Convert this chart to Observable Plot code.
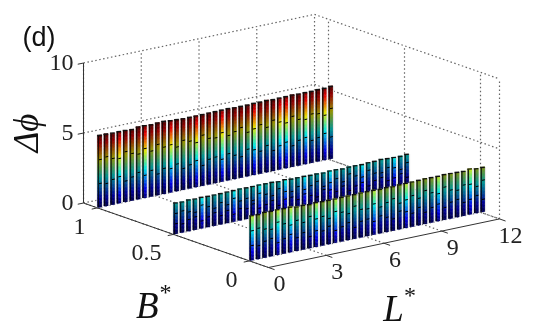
<!DOCTYPE html>
<html><head><meta charset="utf-8">
<style>html,body{margin:0;padding:0;background:#fff}svg{display:block;filter:blur(.35px)}</style>
<script src="https://cdn.jsdelivr.net/npm/d3@7"></script>
<script src="https://cdn.jsdelivr.net/npm/@observablehq/plot@0.6"></script>
</head><body><script>
const Lvals=[0,.33,.67,1,1.33,1.67,2,2.33,2.67,3,3.33,3.67,4,4.33,4.67,5,5.33,5.67,6,6.33,6.67,7,7.33,7.67,8,8.33,8.67,9,9.33,9.67,10,10.33,10.67,11,11.33,11.67,12];
const phiB1=[5.12,5.12,5.10,5.10,5.09,5.05,5.14,5.14,5.11,5.14,5.16,5.11,5.09,5.06,5.06,5.06,5.06,5.08,5.08,5.10,5.10,5.07,5.07,5.07,5.09,5.09,5.11,5.07,5.09,5.09,5.11,5.09,5.09,5.08,5.11,5.10,5.15];
const phiB05=[2.19,2.16,2.21,2.18,2.20,2.18,2.18,2.18,2.20,2.20,2.22,2.20,2.21,2.22,2.21,2.21,2.16,2.21,2.16,2.16,2.16,2.13,2.14,2.11,2.16,2.15,2.11,2.15,2.15,2.13,2.17,2.17,2.21,2.17,2.16,2.14,2.19];
const phiB0=[3.17,3.15,3.21,3.19,3.21,3.19,3.21,3.12,3.14,3.09,3.14,3.11,3.11,3.11,3.13,3.13,3.13,3.15,3.15,3.15,3.12,3.15,3.12,3.15,3.16,3.17,3.19,3.21,3.19,3.18,3.21,3.20,3.18,3.15,3.23,3.15,3.15];
const tickShift=[0,-.1,.1,.2,-.2,0,.2,-.1,.16,-.2,.1,0,.24,-.16,0,.2,-.24,.1,.16,-.1,.2,0,-.2,.24,.1,-.1,.2,-.24,0,.16,-.2,.1,.2,-.1,0,.2,-.16];
const brightB1=[3,7,11,15,19,24,28,29,32,35];
const brightB05=[4,9,13,17,20,24,29,34];
const brightB0=[0,4,6,10,13,19,24,29,34];
const Bticks=[0,.5,1], Lticks=[0,3,6,9,12], Zticks=[0,5,10];
const Brange=[-.125,1.092], Lrange=[0,12], Zrange=[0,10];
const wL=.155, wB=.009, shift=.07, dz=.1;
const jetStops=[0,.65,2.1,3.4,4.6,5.2];
const jetColors=["#000080","#0000ff","#00ffff","#ffff00","#ff0000","#800000"];

// oblique projection of (L,B,z) onto the two plot scales
const U=(L,B)=>L-7.896*B;
const V=(L,B,z)=>z+.2893*L+3.786*B;
const seg=(a,b,extra={})=>({x1:U(a[0],a[1]),y1:V(a[0],a[1],a[2]),x2:U(b[0],b[1]),y2:V(b[0],b[1],b[2]),...extra});
const pt=(L,B,z,extra={})=>({x:U(L,B),y:V(L,B,z),...extra});

const grid=[];
for(const l of Lticks){grid.push(seg([l,Brange[0],0],[l,Brange[1],0]));grid.push(seg([l,Brange[1],0],[l,Brange[1],Zrange[1]]));}
for(const b of Bticks){grid.push(seg([Lrange[0],b,0],[Lrange[1],b,0]));grid.push(seg([Lrange[1],b,0],[Lrange[1],b,Zrange[1]]));}
for(const z of Zticks){grid.push(seg([Lrange[0],Brange[1],z],[Lrange[1],Brange[1],z]));grid.push(seg([Lrange[1],Brange[1],z],[Lrange[1],Brange[0],z]));}
grid.push(seg([Lrange[1],Brange[0],0],[Lrange[1],Brange[0],Zrange[1]]));

const axes=[
 seg([Lrange[0],Brange[1],0],[Lrange[0],Brange[1],Zrange[1]]),
 seg([Lrange[0],Brange[1],0],[Lrange[0],Brange[0],0]),
 seg([Lrange[0],Brange[0],0],[Lrange[1],Brange[0],0]),
 ...Zticks.map(z=>seg([-.3,Brange[1],z],[0,Brange[1],z])),
 ...Bticks.map(b=>seg([-.3,b,0],[0,b,0])),
 ...Lticks.map(l=>seg([l,Brange[0],0],[l,Brange[0]-.04,0]))
];

function rowMarks(B,phi,bright){
 const under=[],left=[],right=[],leftShade=[],rightDim=[],rightLit=[],ticks=[],tops=[];
 Lvals.forEach((L0,i)=>{
  const L=L0+shift,h=phi[i],lit=bright.includes(i);
  under.push(seg([L+.05,B,0],[L+.05,B,h+.05]));
  for(let z=0;z<h-1e-6;z+=dz){
   const t=Math.min(z+dz/2,h);
   left.push(seg([L,B+wB,t],[L,B,t],{z:t}));
   right.push(seg([L,B,t],[L+wL,B,t],{z:t}));
  }
  leftShade.push(seg([L,B+wB/2,0],[L,B+wB/2,h]));
  (lit?rightLit:rightDim).push(seg([L+wL/2,B,0],[L+wL/2,B,h]));
  ticks.push(seg([L+.01,B,h/3+tickShift[i]],[L+wL,B,h/3+tickShift[i]]));
  ticks.push(seg([L+.01,B,2*h/3-tickShift[i]],[L+wL,B,2*h/3-tickShift[i]]));
  tops.push(seg([L-.02,B+wB,h],[L+wL,B,h]));
 });
 const l={x1:"x1",y1:"y1",x2:"x2",y2:"y2"};
 return [
  Plot.link(under,{...l,stroke:"#e6e6e6",strokeWidth:6.6}),
  Plot.link(left,{...l,stroke:"z",strokeWidth:1.7}),
  Plot.link(right,{...l,stroke:"z",strokeWidth:1.7}),
  Plot.link(leftShade,{...l,stroke:"#000",strokeOpacity:.85,strokeWidth:1.6}),
  Plot.link(rightDim,{...l,stroke:"#000",strokeOpacity:.42,strokeWidth:3.2}),
  Plot.link(rightLit,{...l,stroke:"#000",strokeOpacity:.1,strokeWidth:3.2}),
  Plot.link(ticks,{...l,stroke:"#000",strokeWidth:1}),
  Plot.link(tops,{...l,stroke:"#111",strokeWidth:1.4})
 ];
}

const serif="'Liberation Serif'";
const zLab=Zticks.map(z=>pt(0,Brange[1],z,{t:String(z)}));
const bLab=Bticks.map(b=>pt(0,b,0,{t:String(b)}));
const lLab=Lticks.map(l=>pt(l,Brange[0],0,{t:String(l)}));

const chart=Plot.plot({
 width:550,height:331,margin:0,
 x:{domain:[-12.935,15.636],range:[0,550],axis:null},
 y:{domain:[-5.043,18.6],range:[331,0],axis:null},
 color:{type:"linear",domain:jetStops,range:jetColors,interpolate:"rgb"},
 style:{background:"#fff"},
 marks:[
  Plot.link(grid,{x1:"x1",y1:"y1",x2:"x2",y2:"y2",stroke:"#666",strokeWidth:1.2,strokeDasharray:"1.5,2.5"}),
  Plot.link(axes,{x1:"x1",y1:"y1",x2:"x2",y2:"y2",stroke:"#333",strokeWidth:1}),
  ...rowMarks(1,phiB1,brightB1),
  ...rowMarks(.5,phiB05,brightB05),
  ...rowMarks(0,phiB0,brightB0),
  Plot.text(zLab,{x:"x",y:"y",text:"t",textAnchor:"end",dx:-10,dy:-1,fontFamily:serif,fontSize:24,fill:"#222"}),
  Plot.text(bLab,{x:"x",y:"y",text:"t",textAnchor:"end",dx:-12,dy:18,fontFamily:serif,fontSize:24,fill:"#222"}),
  Plot.text(lLab,{x:"x",y:"y",text:"t",dx:11,dy:16,fontFamily:serif,fontSize:24,fill:"#222"}),
  Plot.text(["B"],{x:U(0,-.125)-6.3,y:V(0,-.125,0)-2.76,text:d=>d,fontFamily:serif,fontStyle:"italic",fontSize:37,fill:"#111"}),
  Plot.text(["*"],{x:U(0,-.125)-5.35,y:V(0,-.125,0)-2.76,text:d=>d,dy:-14,fontFamily:serif,fontSize:24,fill:"#111"}),
  Plot.text(["L"],{x:U(6.6,-.125)-.1,y:V(6.6,-.125,0)-4.9,text:d=>d,fontFamily:serif,fontStyle:"italic",fontSize:37,fill:"#111"}),
  Plot.text(["*"],{x:U(6.6,-.125)+.75,y:V(6.6,-.125,0)-4.9,text:d=>d,dy:-14,fontFamily:serif,fontSize:24,fill:"#111"}),
  Plot.text(["Δϕ"],{x:U(0,Brange[1])-2.95,y:V(0,Brange[1],5),text:d=>d,rotate:-90,fontFamily:serif,fontStyle:"italic",fontSize:35,fill:"#111"}),
  Plot.text(["(d)"],{frameAnchor:"top-left",dx:22,dy:26,text:d=>d,textAnchor:"start",fontFamily:"'Liberation Sans'",fontSize:27,fill:"#111"})
 ]
});
document.body.appendChild(chart);
</script></body></html>
